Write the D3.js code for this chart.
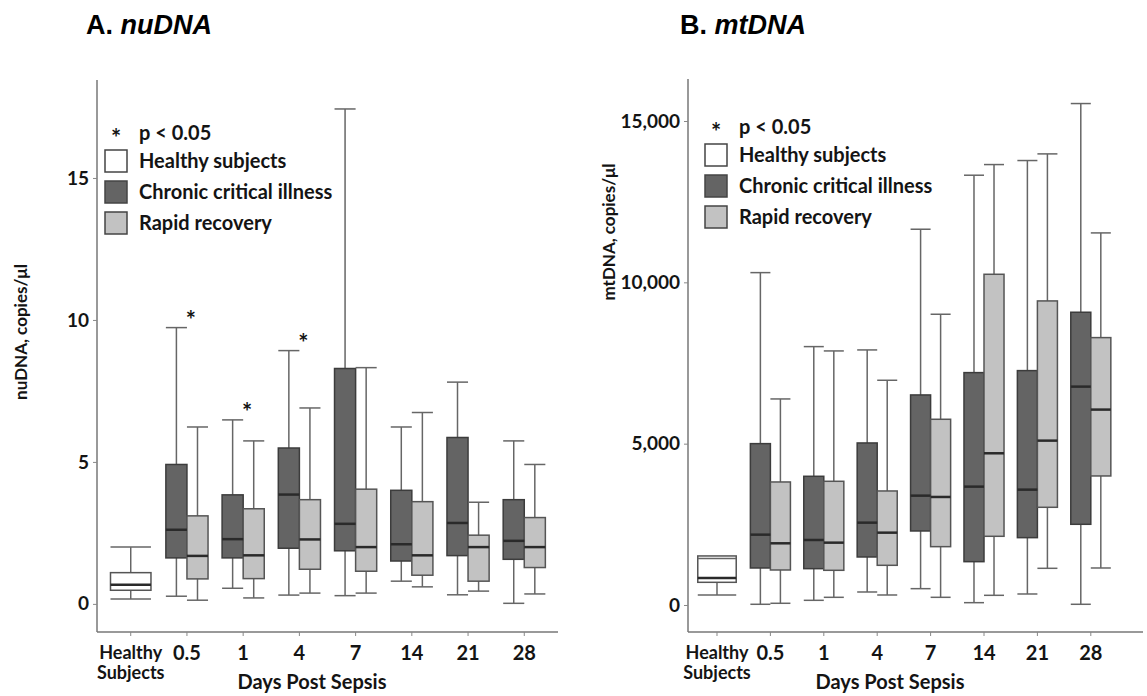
<!DOCTYPE html>
<html lang="en">
<head>
  <meta charset="UTF-8">
  <title>nuDNA / mtDNA after sepsis</title>
  <script src="https://d3js.org/d3.v7.min.js"></script>
  <style>
    body {
      margin: 0;
      background: #fff;
    }
    svg {
      display: block;
    }
    .lbl {
      font-family: Lato, "Open Sans", sans-serif;
      font-weight: bold;
      fill: #141414;
    }
    .title {
      font-family: "Liberation Sans", Arial, sans-serif;
      font-weight: bold;
      font-size: 27px;
      fill: #000;
    }
  </style>
</head>
<body>
  <svg width="1147" height="696"></svg>

  <script>
    // categories on the x axis
    const days = ["Healthy", "0.5", "1", "4", "7", "14", "21", "28"];

    // box stats: [low whisker, q1, median, q3, high whisker]
    const nuHealthy = [0.17, 0.48, 0.67, 1.10, 2.0];
    const nuChronic = [
      [0.27, 1.62, 2.61, 4.91, 9.73],
      [0.55, 1.62, 2.28, 3.84, 6.48],
      [0.31, 1.96, 3.85, 5.49, 8.92],
      [0.29, 1.87, 2.82, 8.29, 17.43],
      [0.80, 1.51, 2.10, 4.00, 6.23],
      [0.32, 1.70, 2.85, 5.86, 7.81],
      [0.02, 1.57, 2.22, 3.67, 5.74]
    ];
    const nuRapid = [
      [0.13, 0.88, 1.69, 3.10, 6.23],
      [0.21, 0.89, 1.71, 3.35, 5.74],
      [0.38, 1.22, 2.27, 3.67, 6.90],
      [0.38, 1.15, 2.00, 4.04, 8.32],
      [0.60, 1.01, 1.71, 3.60, 6.74],
      [0.45, 0.80, 2.00, 2.42, 3.58],
      [0.35, 1.28, 2.00, 3.04, 4.91]
    ];
    const nuStars = ["0.5", "1", "4"];
    const nuTicks = [0, 5, 10, 15];

    const mtHealthy = [310, 703, 837, 1520, 1440];
    const mtChronic = [
      [22, 1147, 2180, 5001, 10301],
      [145, 1126, 2015, 3989, 8008],
      [403, 1488, 2552, 5022, 7905],
      [506, 2294, 3389, 6510, 11646],
      [72, 1343, 3668, 7202, 13320],
      [341, 2087, 3575, 7264, 13775],
      [22, 2501, 6768, 9073, 15541]
    ];
    const mtRapid = [
      [53, 1085, 1912, 3813, 6386],
      [238, 1075, 1932, 3834, 7874],
      [310, 1230, 2242, 3534, 6965],
      [238, 1808, 3348, 5756, 9011],
      [300, 2129, 4702, 10250, 13650],
      [1137, 3028, 5094, 9424, 13981],
      [1147, 3999, 6056, 8287, 11532]
    ];
    const mtStars = [];
    const mtTicks = [0, 5000, 10000, 15000];

    const legendItems = ["Healthy subjects", "Chronic critical illness", "Rapid recovery"];
    const fills = { h: "#ffffff", c: "#646464", r: "#c2c2c2" };

    const svg = d3.select("svg");

    function drawPanel(p) {
      const g = svg.append("g");

      const y = d3.scaleLinear().domain(p.yDomain).range([p.bottom, p.top]);
      const x = d3.scaleBand().domain(days).range(p.xRange)
        .paddingInner(0).paddingOuter(p.padOuter);
      const step = x.bandwidth();
      const cx = d => x(d) + step / 2;

      // title
      const t = g.append("text").attr("class", "title")
        .attr("x", p.titleX).attr("y", 34);
      t.append("tspan").text(p.letter + " ");
      t.append("tspan").attr("font-style", "italic").text(p.name);

      // axis lines
      g.append("line")
        .attr("x1", p.left).attr("x2", p.left)
        .attr("y1", p.top).attr("y2", p.bottom)
        .attr("stroke", "#777").attr("stroke-width", 1.5);
      g.append("line")
        .attr("x1", p.left).attr("x2", p.right)
        .attr("y1", p.bottom).attr("y2", p.bottom)
        .attr("stroke", "#777").attr("stroke-width", 1.5);

      // y axis ticks
      const ya = g.append("g")
        .attr("transform", `translate(${p.left},0)`)
        .call(d3.axisLeft(y).tickValues(p.ticks).tickFormat(p.fmt).tickSize(4).tickPadding(4));
      ya.select(".domain").remove();
      ya.selectAll(".tick line").attr("stroke", "#888");
      ya.selectAll(".tick text").attr("class", "lbl").attr("font-size", 19);

      // x axis ticks
      const xa = g.append("g")
        .attr("transform", `translate(0,${p.bottom})`)
        .call(d3.axisBottom(x).tickSize(4).tickPadding(10));
      xa.select(".domain").remove();
      xa.selectAll(".tick line").attr("stroke", "#888");
      xa.selectAll(".tick text").attr("class", "lbl").attr("font-size", 20)
        .each(function(d) {
          if (d !== "Healthy") return;
          const el = d3.select(this).text(null).attr("font-size", 18);
          el.append("tspan").attr("x", 0).text("Healthy");
          el.append("tspan").attr("x", 0).attr("dy", "1.15em").text("Subjects");
        });

      g.append("text").attr("class", "lbl")
        .attr("x", p.xTitleX).attr("y", 689)
        .attr("text-anchor", "middle").attr("font-size", 20)
        .text("Days Post Sepsis");

      g.append("text").attr("class", "lbl")
        .attr("transform", `translate(${p.yTitleX},${p.yTitleY}) rotate(-90)`)
        .attr("text-anchor", "middle").attr("font-size", 17)
        .text(p.yTitle);

      // boxes
      const boxes = [{ day: "Healthy", s: p.healthy, kind: "h" }]
        .concat(p.chronic.map((s, i) => ({ day: days[i + 1], s, kind: "c" })))
        .concat(p.rapid.map((s, i) => ({ day: days[i + 1], s, kind: "r" })));

      const pw = step * 0.375;
      const hw = step * 0.72;
      boxes.forEach(b => {
        b.w = b.kind === "h" ? hw : pw;
        b.x0 = b.kind === "h" ? cx(b.day) - hw / 2 : (b.kind === "c" ? cx(b.day) - pw : cx(b.day));
        b.mid = b.x0 + b.w / 2;
      });

      const bg = g.append("g");
      bg.selectAll(".whisk").data(boxes).join("line")
        .attr("x1", d => d.mid).attr("x2", d => d.mid)
        .attr("y1", d => y(d.s[0])).attr("y2", d => y(d.s[4]))
        .attr("stroke", "#666").attr("stroke-width", 1.5);
      bg.selectAll(".box").data(boxes).join("rect")
        .attr("x", d => d.x0).attr("width", d => d.w)
        .attr("y", d => y(d.s[3])).attr("height", d => y(d.s[1]) - y(d.s[3]))
        .attr("fill", d => fills[d.kind])
        .attr("stroke", d => d.kind === "c" ? "#3c3c3c" : "#555")
        .attr("stroke-width", 1.5);
      bg.selectAll(".cap").data(boxes.flatMap(d => [[d, d.s[0]], [d, d.s[4]]])).join("line")
        .attr("x1", d => d[0].x0).attr("x2", d => d[0].x0 + d[0].w)
        .attr("y1", d => y(d[1])).attr("y2", d => y(d[1]))
        .attr("stroke", "#666").attr("stroke-width", 1.5);
      bg.selectAll(".med").data(boxes).join("line")
        .attr("x1", d => d.x0).attr("x2", d => d.x0 + d.w)
        .attr("y1", d => y(d.s[2])).attr("y2", d => y(d.s[2]))
        .attr("stroke", "#2a2a2a").attr("stroke-width", 2.5);

      // significance stars above chronic boxes
      g.selectAll(".star").data(p.stars).join("text").attr("class", "lbl")
        .attr("x", d => cx(d) + 4)
        .attr("y", d => y(p.chronic[days.indexOf(d) - 1][4]) + 1)
        .attr("text-anchor", "middle").attr("font-size", 24)
        .text("*");

      // legend
      const lg = g.append("g").attr("transform", `translate(${p.legendX},${p.legendY})`);
      lg.append("text").attr("class", "lbl")
        .attr("x", 11).attr("y", 13).attr("text-anchor", "middle").attr("font-size", 24).text("*");
      lg.append("text").attr("class", "lbl")
        .attr("x", 34).attr("y", 6).attr("font-size", 20).text("p < 0.05");
      const items = lg.selectAll(".item").data(legendItems).join("g")
        .attr("transform", (d, i) => `translate(0,${16 + i * 31})`);
      items.append("rect")
        .attr("width", 22).attr("height", 22)
        .attr("fill", (d, i) => fills["hcr"[i]])
        .attr("stroke", "#444").attr("stroke-width", 1.5);
      items.append("text").attr("class", "lbl")
        .attr("x", 34).attr("y", 18).attr("font-size", 20)
        .text(d => d);
    }

    drawPanel({
      letter: "A.", name: "nuDNA", titleX: 86,
      left: 97, right: 558, top: 80, bottom: 632,
      yDomain: [-0.99, 18.45], xRange: [97, 558], padOuter: 0.1,
      ticks: nuTicks, fmt: d3.format("d"),
      healthy: nuHealthy, chronic: nuChronic, rapid: nuRapid, stars: nuStars,
      yTitle: "nuDNA, copies/\u03bcl", yTitleX: 27, yTitleY: 332,
      xTitleX: 312, legendX: 105, legendY: 134
    });

    drawPanel({
      letter: "B.", name: "mtDNA", titleX: 680,
      left: 688, right: 1143, top: 79, bottom: 632,
      yDomain: [-837, 16302], xRange: [688, 1119.8], padOuter: 0.043,
      ticks: mtTicks, fmt: d3.format(","),
      healthy: mtHealthy, chronic: mtChronic, rapid: mtRapid, stars: mtStars,
      yTitle: "mtDNA, copies/\u03bcl", yTitleX: 615, yTitleY: 232,
      xTitleX: 890, legendX: 705, legendY: 128
    });
  </script>
</body>
</html>
